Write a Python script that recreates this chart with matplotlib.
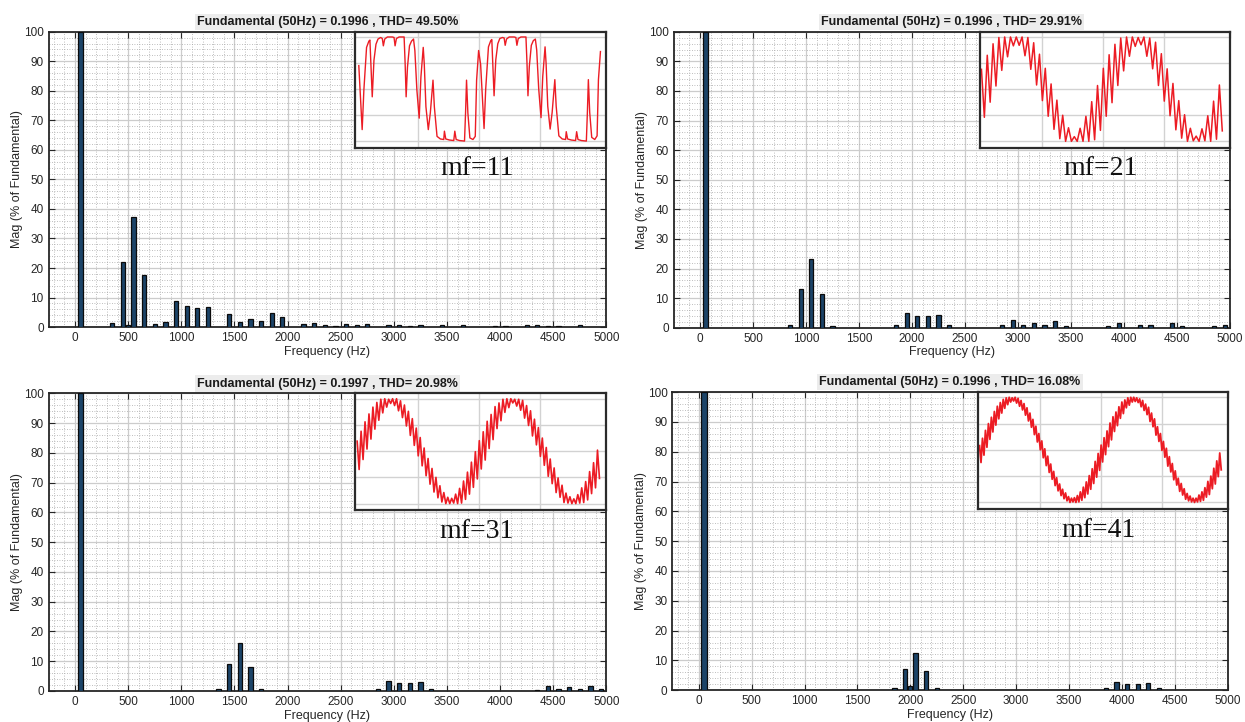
import numpy as np
import matplotlib.pyplot as plt
from matplotlib.ticker import MultipleLocator

plt.rcParams['font.family'] = ['Liberation Sans', 'DejaVu Sans']

# =========================================================
# Spectrum data (harmonic frequency [Hz], magnitude [% of fundamental])
# =========================================================
freq_11 = [50, 350, 450, 500, 550, 650, 750, 850, 950, 1050, 1150, 1250, 1450, 1550,
           1650, 1750, 1850, 1950, 2150, 2250, 2350, 2450, 2550, 2650, 2750, 2950,
           3050, 3150, 3250, 3450, 3650, 3950, 4050, 4250, 4350, 4450, 4550, 4750]
mag_11 = [100, 1.5, 22.1, 0.8, 37.2, 17.6, 1.2, 1.6, 8.9, 7.0, 6.3, 6.7, 4.5, 1.8,
          2.8, 1.9, 4.7, 3.5, 1.1, 1.5, 0.8, 0.5, 1.1, 0.8, 1.1, 0.8,
          0.8, 0.5, 0.8, 0.7, 0.7, 0.3, 0.5, 0.8, 0.8, 0.5, 0.3, 0.8]

freq_21 = [50, 850, 950, 1050, 1150, 1250, 1850, 1950, 2050, 2150, 2250, 2350, 2850,
           2950, 3050, 3150, 3250, 3350, 3450, 3850, 3950, 4150, 4250, 4450, 4550,
           4850, 4950]
mag_21 = [100, 1.1, 13.2, 23.1, 11.3, 0.6, 1.1, 5.1, 3.9, 3.9, 4.3, 0.8, 1.0,
          2.6, 1.0, 1.7, 1.0, 2.4, 0.6, 0.6, 1.5, 0.8, 1.0, 1.5, 0.6,
          0.6, 1.0]

freq_31 = [50, 1350, 1450, 1550, 1650, 1750, 2850, 2950, 3050, 3150, 3250, 3350,
           4350, 4450, 4550, 4650, 4750, 4850, 4950]
mag_31 = [100, 0.6, 9.2, 16.2, 8.1, 0.6, 0.6, 3.3, 2.6, 2.6, 2.9, 0.6,
          0.3, 1.7, 0.6, 1.4, 0.5, 1.7, 0.6]

freq_41 = [50, 1850, 1950, 2000, 2050, 2150, 2250, 3850, 3950, 4050, 4150, 4250, 4350]
mag_41 = [100, 0.6, 7.2, 1.5, 12.6, 6.5, 0.8, 0.6, 2.6, 2.1, 2.0, 2.4, 0.6]

titles = ['Fundamental (50Hz) = 0.1996 , THD= 49.50%',
          'Fundamental (50Hz) = 0.1996 , THD= 29.91%',
          'Fundamental (50Hz) = 0.1997 , THD= 20.98%',
          'Fundamental (50Hz) = 0.1996 , THD= 16.08%']
mf_labels = ['mf=11', 'mf=21', 'mf=31', 'mf=41']

# =========================================================
# Inset waveforms (time [ms], normalised value)
# =========================================================
# mf=11: irregular vertices
t_11 = [0.27, 0.82, 1.10, 1.54, 1.92, 2.09, 2.47, 2.75, 3.08, 3.41, 3.85, 4.12, 4.29,
        4.51, 4.95, 5.77, 6.04, 6.21, 6.43, 6.87, 7.69, 7.86, 8.02, 8.24, 8.57, 8.90,
        9.23, 9.45, 9.78, 10.16, 10.44, 10.82, 10.99, 11.26, 11.65, 11.98, 12.42,
        12.64, 13.08, 13.63, 14.18, 14.29, 14.51, 15.11, 15.82, 15.99, 16.21, 16.76,
        17.58, 17.75, 17.91, 18.13, 18.46, 18.96, 19.34, 19.56, 19.89,
        20.22, 20.78, 21.05, 21.50, 21.88, 22.05, 22.42, 22.70, 23.03, 23.36, 23.80,
        24.07, 24.24, 24.46, 24.90, 25.72, 25.99, 26.16, 26.38, 26.82, 27.64, 27.81,
        27.97, 28.19, 28.52, 28.85, 29.18, 29.40, 29.73, 30.11, 30.39, 30.77, 30.94,
        31.21, 31.60, 31.93, 32.37, 32.59, 33.03, 33.58, 34.13, 34.24, 34.46, 35.06,
        35.77, 35.94, 36.16, 36.71, 37.53, 37.70, 37.86, 38.08, 38.41, 38.91, 39.29,
        39.51, 39.84]
v_11 = [0.45, -0.78, -0.02, 0.80, 0.92, 0.94, -0.15, 0.55, 0.86, 0.96, 0.99, 0.97, 0.83,
        0.96, 1.00, 1.00, 0.99, 0.83, 0.97, 1.00, 1.00, 0.48, -0.15, 0.42, 0.83, 0.92,
        0.96, 0.74, -0.02, -0.56, 0.23, 0.80, 0.48, -0.34, -0.78, -0.46, 0.17,
        -0.34, -0.91, -0.96, -0.97, -0.81, -0.96, -0.98, -0.99, -0.81, -0.97, -0.99,
        -1.00, -0.46, 0.17, -0.46, -0.94, -0.97, -0.91, 0.17, 0.74,
        0.47, -0.76, 0.00, 0.81, 0.93, 0.95, -0.13, 0.56, 0.87, 0.97, 0.99,
        0.98, 0.84, 0.96, 1.00, 1.00, 0.99, 0.84, 0.97, 1.00, 1.00, 0.50,
        -0.13, 0.43, 0.84, 0.93, 0.96, 0.75, 0.00, -0.55, 0.24, 0.81, 0.49,
        -0.33, -0.77, -0.45, 0.18, -0.33, -0.90, -0.96, -0.97, -0.82, -0.96, -0.98,
        -0.99, -0.82, -0.97, -0.99, -1.00, -0.45, 0.18, -0.45, -0.93, -0.97, -0.90,
        0.18, 0.72]

# mf=21/31/41: ripple peaks and dips, one pair per switching period
peaks_21 = [0.38, 0.65, 0.87, 0.99, 1.00, 1.00, 1.00, 1.00, 0.99, 0.89, 0.67, 0.40, 0.10,
            -0.21, -0.50, -0.74, -0.91, -0.75, -0.52, -0.24, 0.07,
            0.40, 0.66, 0.86, 0.98, 1.00, 1.00, 0.99, 1.00, 0.98, 0.90, 0.68, 0.39, 0.11,
            -0.22, -0.49, -0.75, -0.90, -0.76, -0.51, -0.23, 0.08]
dips_21 = [-0.54, -0.25, 0.06, 0.36, 0.62, 0.83, 0.84, 0.64, 0.38, 0.08, -0.22, -0.52,
           -0.77, -0.95, -1.00, -1.00, -1.00, -1.00, -1.00, -0.97, -0.79,
           -0.52, -0.26, 0.07, 0.35, 0.63, 0.82, 0.85, 0.63, 0.39, 0.07, -0.23, -0.51,
           -0.78, -0.94, -1.00, -0.99, -1.00, -0.99, -1.00, -0.96, -0.80]

peaks_31 = [0.19, 0.38, 0.56, 0.71, 0.84, 0.93, 0.99, 1.00, 0.99, 1.00, 1.00, 0.96, 0.88,
            0.76, 0.62, 0.44, 0.26, 0.06, -0.14, -0.33, -0.50, -0.66, -0.79, -0.88,
            -0.90, -0.82, -0.71, -0.57, -0.40, -0.21, -0.01,
            0.20, 0.37, 0.57, 0.70, 0.85, 0.92, 0.99, 1.00, 1.00, 0.99, 0.99, 0.97, 0.87,
            0.77, 0.61, 0.45, 0.25, 0.07, -0.15, -0.32, -0.51, -0.65, -0.80, -0.87,
            -0.91, -0.83, -0.70, -0.58, -0.39, -0.22, 0.02]
dips_31 = [-0.35, -0.16, 0.04, 0.23, 0.42, 0.59, 0.73, 0.84, 0.91, 0.87, 0.77, 0.64, 0.48,
           0.30, 0.11, -0.09, -0.28, -0.47, -0.63, -0.78, -0.89, -0.97, -1.00, -1.00,
           -0.99, -1.00, -0.99, -0.92, -0.82, -0.69, -0.53,
           -0.34, -0.17, 0.05, 0.22, 0.43, 0.58, 0.74, 0.83, 0.92, 0.86, 0.78, 0.63, 0.49,
           0.29, 0.12, -0.10, -0.27, -0.48, -0.62, -0.79, -0.88, -0.98, -0.99, -1.00,
           -1.00, -0.99, -0.98, -0.93, -0.81, -0.70, -0.52]

peaks_41 = [0.08, 0.22, 0.37, 0.50, 0.62, 0.73, 0.83, 0.90, 0.96, 0.99, 1.00, 0.99, 1.00,
            0.98, 0.94, 0.88, 0.80, 0.70, 0.58, 0.45, 0.31, 0.17, 0.02, -0.12, -0.27,
            -0.41, -0.53, -0.65, -0.75, -0.82, -0.89, -0.92, -0.91, -0.87, -0.80, -0.71,
            -0.61, -0.49, -0.36, -0.22, -0.07,
            0.09, 0.23, 0.36, 0.51, 0.63, 0.72, 0.82, 0.91, 0.95, 0.99, 1.00, 1.00, 0.99,
            0.97, 0.94, 0.87, 0.81, 0.70, 0.59, 0.44, 0.31, 0.16, 0.03, -0.13, -0.26,
            -0.40, -0.54, -0.64, -0.74, -0.83, -0.88, -0.92, -0.92, -0.86, -0.80, -0.72,
            -0.60, -0.50, -0.35, -0.21, -0.06]
dips_41 = [-0.24, -0.10, 0.05, 0.20, 0.34, 0.47, 0.59, 0.70, 0.79, 0.86, 0.91, 0.93, 0.89,
           0.83, 0.76, 0.66, 0.55, 0.43, 0.29, 0.15, 0.00, -0.15, -0.30, -0.43, -0.56,
           -0.68, -0.78, -0.87, -0.93, -0.97, -1.00, -0.99, -1.00, -0.99, -0.96, -0.91,
           -0.84, -0.75, -0.64, -0.52, -0.39,
           -0.23, -0.09, 0.06, 0.19, 0.35, 0.46, 0.60, 0.69, 0.80, 0.85, 0.91, 0.92, 0.90,
           0.82, 0.75, 0.67, 0.54, 0.44, 0.28, 0.16, -0.01, -0.14, -0.31, -0.42, -0.57,
           -0.67, -0.79, -0.86, -0.94, -0.97, -0.99, -1.00, -0.99, -0.98, -0.96, -0.90,
           -0.85, -0.74, -0.65, -0.51, -0.38]


def ripple(peaks, dips, mf):
    v = np.column_stack([peaks, dips]).ravel()
    t = np.arange(len(v)) * 10.0 / mf       # half a carrier period per sample [ms]
    return t, v


waves = [(np.array(t_11), np.array(v_11)),
         ripple(peaks_21, dips_21, 21),
         ripple(peaks_31, dips_31, 31),
         ripple(peaks_41, dips_41, 41)]
spectra = [(freq_11, mag_11), (freq_21, mag_21), (freq_31, mag_31), (freq_41, mag_41)]
wave_lw = [1.0, 1.1, 1.2, 1.3]

# =========================================================
# Layout
# =========================================================
fig = plt.figure(figsize=(12.45, 7.22), dpi=100)
positions = [[0.039, 0.547, 0.448, 0.409],
             [0.541, 0.546, 0.447, 0.410],
             [0.039, 0.043, 0.448, 0.412],
             [0.540, 0.044, 0.446, 0.413]]

bar_color = '#1c4468'
spine_color = '#262626'

for i in range(4):
    ax = fig.add_axes(positions[i])
    freq, mag = spectra[i]
    widths = [48 if f == 50 else 40 for f in freq]
    ax.bar(freq, mag, width=widths, color=bar_color, edgecolor='#0b0b0b',
           linewidth=0.9, zorder=3)

    ax.set_xlim(-250, 5000)
    ax.set_ylim(0, 100)
    ax.xaxis.set_major_locator(MultipleLocator(500))
    ax.xaxis.set_minor_locator(MultipleLocator(100))
    ax.yaxis.set_major_locator(MultipleLocator(10))
    ax.yaxis.set_minor_locator(MultipleLocator(2))
    ax.set_axisbelow(True)
    ax.grid(which='major', color='#cccccc', linewidth=0.9, linestyle='-')
    ax.grid(which='minor', color='#a8a8a8', linewidth=0.6, linestyle=(0, (1, 2)))
    ax.tick_params(which='both', direction='in', top=True, right=True,
                   labelsize=8.5, colors=spine_color, length=4)
    ax.tick_params(which='minor', length=0)
    for s in ax.spines.values():
        s.set_color(spine_color)
        s.set_linewidth(1.3)

    ax.set_xlabel('Frequency (Hz)', fontsize=9, color=spine_color)
    ax.set_ylabel('Mag (% of Fundamental)', fontsize=9, color=spine_color)
    ax.xaxis.set_label_coords(0.5, -0.063)
    ax.yaxis.set_label_coords(-0.046, 0.5)
    ax.set_title(titles[i], fontsize=9, fontweight='bold', color='#1a1a1a', pad=5,
                 bbox=dict(facecolor='#ececec', edgecolor='none', pad=1.5))

    # inset waveform
    ins = ax.inset_axes([0.55, 0.607, 0.45, 0.393])
    ins.set_zorder(5)
    t, v = waves[i]
    ins.plot(t, v, color='#ec1c24', linewidth=wave_lw[i])
    ins.set_xlim(-0.3, 40.8)
    ins.set_ylim(-1.13, 1.1)
    ins.set_xticks([10, 20, 30])
    ins.set_yticks([-1, -0.5, 0, 0.5, 1])
    ins.grid(True, color='#d2d2d2', linewidth=1.0)
    ins.tick_params(length=0, labelbottom=False, labelleft=False)
    ins.set_facecolor('white')
    for s in ins.spines.values():
        s.set_color('#2b2b2b')
        s.set_linewidth(1.6)

    ax.text(0.768, 0.537, mf_labels[i], transform=ax.transAxes, ha='center',
            va='center', fontsize=20, family='Liberation Serif', color='#111111',
            zorder=6)

fig.savefig('out.png', dpi=100)
